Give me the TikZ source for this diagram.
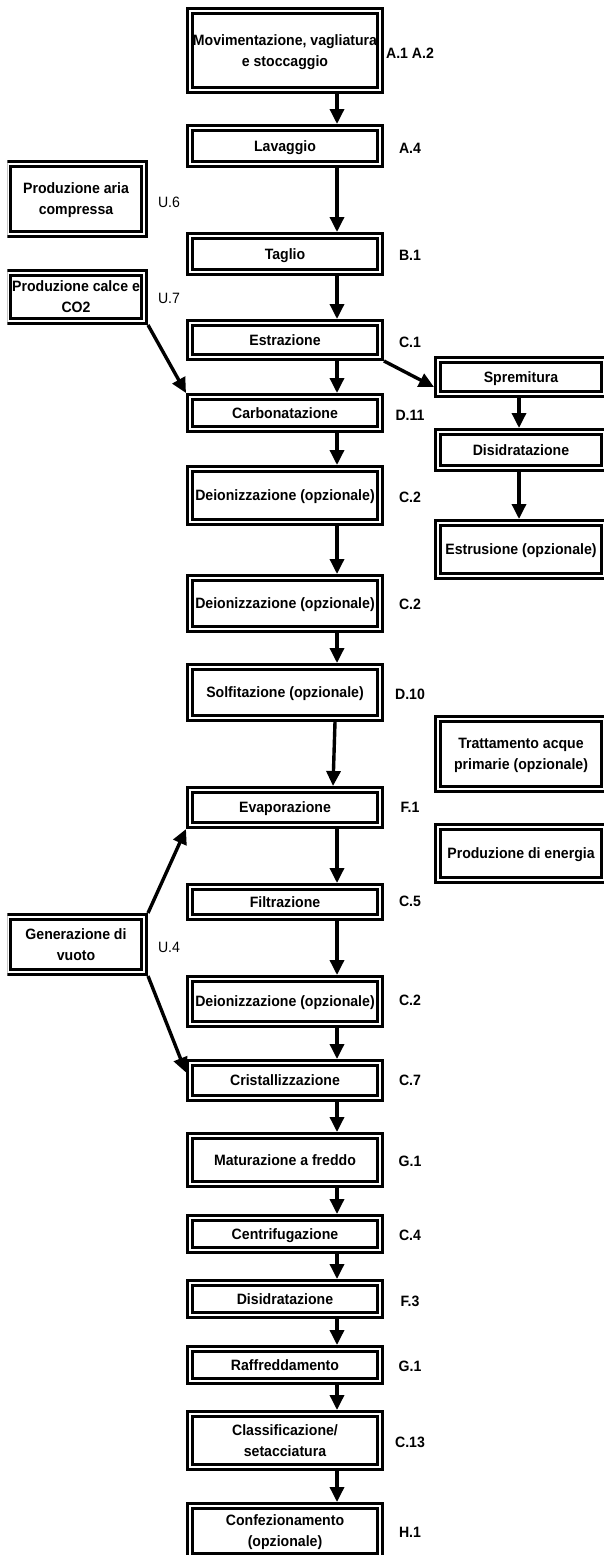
\documentclass[tikz,border=0pt]{standalone}
\usepackage{fontspec}
\setmainfont{Liberation Sans}[FakeStretch=0.94]
\usetikzlibrary{arrows.meta,calc}
\begin{document}
\begin{tikzpicture}[x=1pt,y=-1pt,
  frame/.style={draw, double=white, line width=2.8pt, double distance=2pt,
    outer sep=3.8pt, inner sep=1pt, align=center, text depth=0pt,
    font=\bfseries\fontsize{15}{21}\selectfont},
  mainbox/.style={frame, minimum width=190.4pt},
  sidebox/.style={frame, minimum width=166.4pt},
  leftbox/.style={frame, minimum width=136.4pt},
  code/.style={font=\bfseries\fontsize{15}{18}\selectfont, inner sep=0pt},
  ucode/.style={font=\fontsize{15}{18}\selectfont, inner sep=0pt},
  flow/.style={line width=3.4pt, -{Triangle[width=14pt,length=15pt]}},
]
\useasboundingbox (0,0) rectangle (604,1555);

% vertical lines carrying the flow arrows
\coordinate (spine) at (337,0);
\coordinate (rspine) at (519,0);

% main process line
\node[mainbox, minimum height=79.4pt] (mov)   at (285,50.5)  {Movimentazione, vagliatura\\e stoccaggio};
\node[mainbox, minimum height=36.4pt] (lav)   at (285,146)   {Lavaggio};
\node[mainbox, minimum height=36.4pt] (tag)   at (285,254)   {Taglio};
\node[mainbox, minimum height=34.4pt] (est)   at (285,340)   {Estrazione};
\node[mainbox, minimum height=32.4pt] (carb)  at (285,413)   {Carbonatazione};
\node[mainbox, minimum height=53.4pt] (deio1) at (285,495.5) {Deionizzazione (opzionale)};
\node[mainbox, minimum height=51.4pt] (deio2) at (285,603.5) {Deionizzazione (opzionale)};
\node[mainbox, minimum height=51.4pt] (solf)  at (285,692.5) {Solfitazione (opzionale)};
\node[mainbox, minimum height=35.4pt] (evap)  at (285,807.5) {Evaporazione};
\node[mainbox, minimum height=30.4pt] (filt)  at (285,902)   {Filtrazione};
\node[mainbox, minimum height=45.4pt] (deio3) at (285,1001.5){Deionizzazione (opzionale)};
\node[mainbox, minimum height=35.4pt] (crist) at (285,1080.5){Cristallizzazione};
\node[mainbox, minimum height=48.4pt] (mat)   at (285,1160)  {Maturazione a freddo};
\node[mainbox, minimum height=32.4pt] (centr) at (285,1234)  {Centrifugazione};
\node[mainbox, minimum height=32.4pt] (disid) at (285,1299)  {Disidratazione};
\node[mainbox, minimum height=32.4pt] (raff)  at (285,1365)  {Raffreddamento};
\node[mainbox, minimum height=53.4pt] (class) at (285,1440.5){Classificazione/\\setacciatura};
\node[mainbox, minimum height=50.4pt] (conf)  at (285,1531)  {Confezionamento\\(opzionale)};

% codes of the main line
\node[code] (c-mov)   at (410,53)   {A.1 A.2};
\node[code] (c-lav)   at (410,148)  {A.4};
\node[code] (c-tag)   at (410,255)  {B.1};
\node[code] (c-est)   at (410,342)  {C.1};
\node[code] (c-carb)  at (410,415)  {D.11};
\node[code] (c-deio1) at (410,497)  {C.2};
\node[code] (c-deio2) at (410,604)  {C.2};
\node[code] (c-solf)  at (410,694)  {D.10};
\node[code] (c-evap)  at (410,807)  {F.1};
\node[code] (c-filt)  at (410,901)  {C.5};
\node[code] (c-deio3) at (410,1000) {C.2};
\node[code] (c-crist) at (410,1080) {C.7};
\node[code] (c-mat)   at (410,1161) {G.1};
\node[code] (c-centr) at (410,1235) {C.4};
\node[code] (c-disid) at (410,1301) {F.3};
\node[code] (c-raff)  at (410,1366) {G.1};
\node[code] (c-class) at (410,1442) {C.13};
\node[code] (c-conf)  at (410,1532) {H.1};

% pulp branch and auxiliary units on the right
\node[sidebox, minimum height=34.4pt] (spr)   at (521,377)   {Spremitura};
\node[sidebox, minimum height=36.4pt] (dis2)  at (521,450)   {Disidratazione};
\node[sidebox, minimum height=53.4pt] (estr)  at (521,549.5) {Estrusione (opzionale)};
\node[sidebox, minimum height=70.4pt] (tratt) at (521,754)   {Trattamento acque\\primarie (opzionale)};
\node[sidebox, minimum height=53.4pt] (energ) at (521,853.5) {Produzione di energia};

% utilities on the left, their outer frame cut at the left margin
\begin{scope}
  \clip (7.3,0) rectangle (604,1555);
  \node[leftbox, minimum height=70.4pt] (aria)  at (76,199)   {Produzione aria\\compressa};
  \node[leftbox, minimum height=48.4pt] (calce) at (76,297)   {Produzione calce e\\CO2};
  \node[leftbox, minimum height=55.4pt] (vuoto) at (76,944.5) {Generazione di\\vuoto};
\end{scope}
\node[ucode] (u-aria)  at (169,202) {U.6};
\node[ucode] (u-calce) at (169,298) {U.7};
\node[ucode] (u-vuoto) at (169,947) {U.4};

% flow along the main line
\draw[flow] (mov.south -| spine)   -- (lav.north -| spine);
\draw[flow] (lav.south -| spine)   -- (tag.north -| spine);
\draw[flow] (tag.south -| spine)   -- (est.north -| spine);
\draw[flow] (est.south -| spine)   -- (carb.north -| spine);
\draw[flow] (carb.south -| spine)  -- (deio1.north -| spine);
\draw[flow] (deio1.south -| spine) -- (deio2.north -| spine);
\draw[flow] (deio2.south -| spine) -- (solf.north -| spine);
\draw[flow] ($(solf.south -| spine)+(-2,0)$) -- ($(evap.north -| spine)+(-4,0)$);
\draw[flow] (evap.south -| spine)  -- (filt.north -| spine);
\draw[flow] (filt.south -| spine)  -- (deio3.north -| spine);
\draw[flow] (deio3.south -| spine) -- (crist.north -| spine);
\draw[flow] (crist.south -| spine) -- (mat.north -| spine);
\draw[flow] (mat.south -| spine)   -- (centr.north -| spine);
\draw[flow] (centr.south -| spine) -- (disid.north -| spine);
\draw[flow] (disid.south -| spine) -- (raff.north -| spine);
\draw[flow] (raff.south -| spine)  -- (class.north -| spine);
\draw[flow] (class.south -| spine) -- (conf.north -| spine);

% pulp branch
\draw[flow] (est.south east) -- ($(spr.west)+(0,10)$);
\draw[flow] (spr.south -| rspine)  -- (dis2.north -| rspine);
\draw[flow] (dis2.south -| rspine) -- (estr.north -| rspine);

% utility feeds
\draw[flow] (calce.south east) -- (carb.north west);
\draw[flow] (vuoto.north east) -- (evap.south west);
\draw[flow] (vuoto.south east) -- ($(crist.west)+(0,-8)$);
\end{tikzpicture}
\end{document}
